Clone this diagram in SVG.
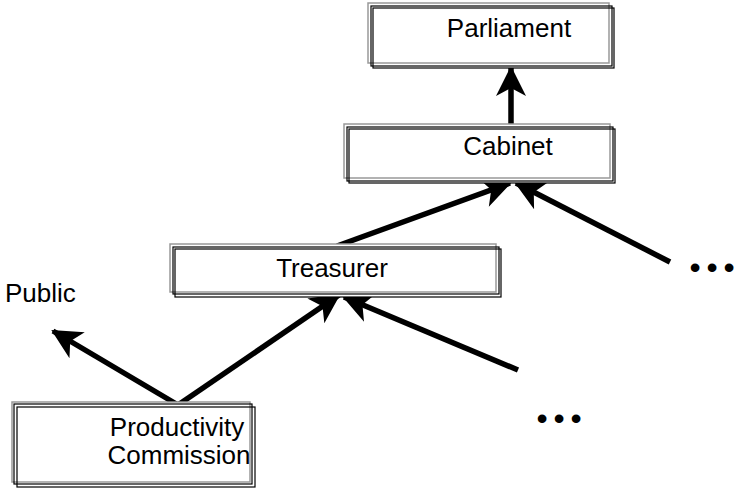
<svg xmlns="http://www.w3.org/2000/svg" width="735" height="489" viewBox="0 0 735 489">
<style>
.g{fill:none;stroke:#999;stroke-width:1.5}
.b{fill:none;stroke:#000;stroke-width:1.2}
.w{fill:#fff;stroke:none}
text{font-family:"Liberation Sans",Arial,sans-serif;font-size:26px;fill:#000}
.c{text-anchor:middle}
.d{font-size:32px}
.ln{stroke:#000;stroke-width:5.5;fill:none;marker-end:url(#ah)}
</style>
<defs>
<marker id="ah" markerUnits="userSpaceOnUse" markerWidth="40" markerHeight="40" viewBox="-30 -20 34 40" refX="0" refY="0" orient="auto" overflow="visible">
<path d="M2,0 L-28,-15 L-20,0 L-28,15 Z" fill="#000"/>
</marker>
</defs>
<rect width="735" height="489" fill="#fff"/>
<g id="connectors">
<line class="ln" x1="511" y1="126" x2="511" y2="68"/>
<line class="ln" x1="337" y1="246" x2="510" y2="183"/>
<line class="ln" x1="670" y1="262" x2="516" y2="183"/>
<line class="ln" x1="178" y1="405" x2="339" y2="295"/>
<line class="ln" x1="518" y1="370" x2="344" y2="297"/>
<line class="ln" x1="178" y1="405" x2="53" y2="331"/>
</g>
<g id="parliament">
<rect class="w" x="368" y="3" width="245" height="65"/>
<rect class="g" x="368" y="3" width="241" height="60"/>
<rect class="b" x="371" y="6" width="241" height="60"/>
<rect class="b" x="373" y="8" width="241" height="60"/>
<text class="c" x="509" y="37">Parliament</text>
</g>
<g id="cabinet">
<rect class="w" x="344" y="124" width="270" height="59"/>
<rect class="g" x="344" y="124" width="266" height="54"/>
<rect class="b" x="347" y="127" width="266" height="54"/>
<rect class="b" x="349" y="129" width="266" height="54"/>
<text class="c" x="508" y="155">Cabinet</text>
</g>
<g id="treasurer">
<rect class="w" x="170" y="244" width="331" height="53"/>
<rect class="g" x="170" y="244" width="326" height="48"/>
<rect class="b" x="173" y="247" width="326" height="47"/>
<rect class="b" x="175" y="249" width="326" height="48"/>
<text class="c" x="332" y="277">Treasurer</text>
</g>
<g id="productivity-commission">
<rect class="w" x="12" y="402" width="243" height="85"/>
<rect class="g" x="12" y="402" width="238" height="80"/>
<rect class="b" x="14" y="404" width="238" height="80"/>
<rect class="b" x="17" y="407" width="238" height="80"/>
<text class="c" x="177" y="436">Productivity</text>
<text class="c" x="179" y="464">Commission</text>
</g>
<g id="public">
<text x="5" y="302">Public</text>
</g>
<g id="more-cabinet">
<text class="d" x="689.4 706.4 723.4" y="277.5">•••</text>
</g>
<g id="more-treasurer">
<text class="d" x="536.4 553.4 570.4" y="428.5">•••</text>
</g>
</svg>
